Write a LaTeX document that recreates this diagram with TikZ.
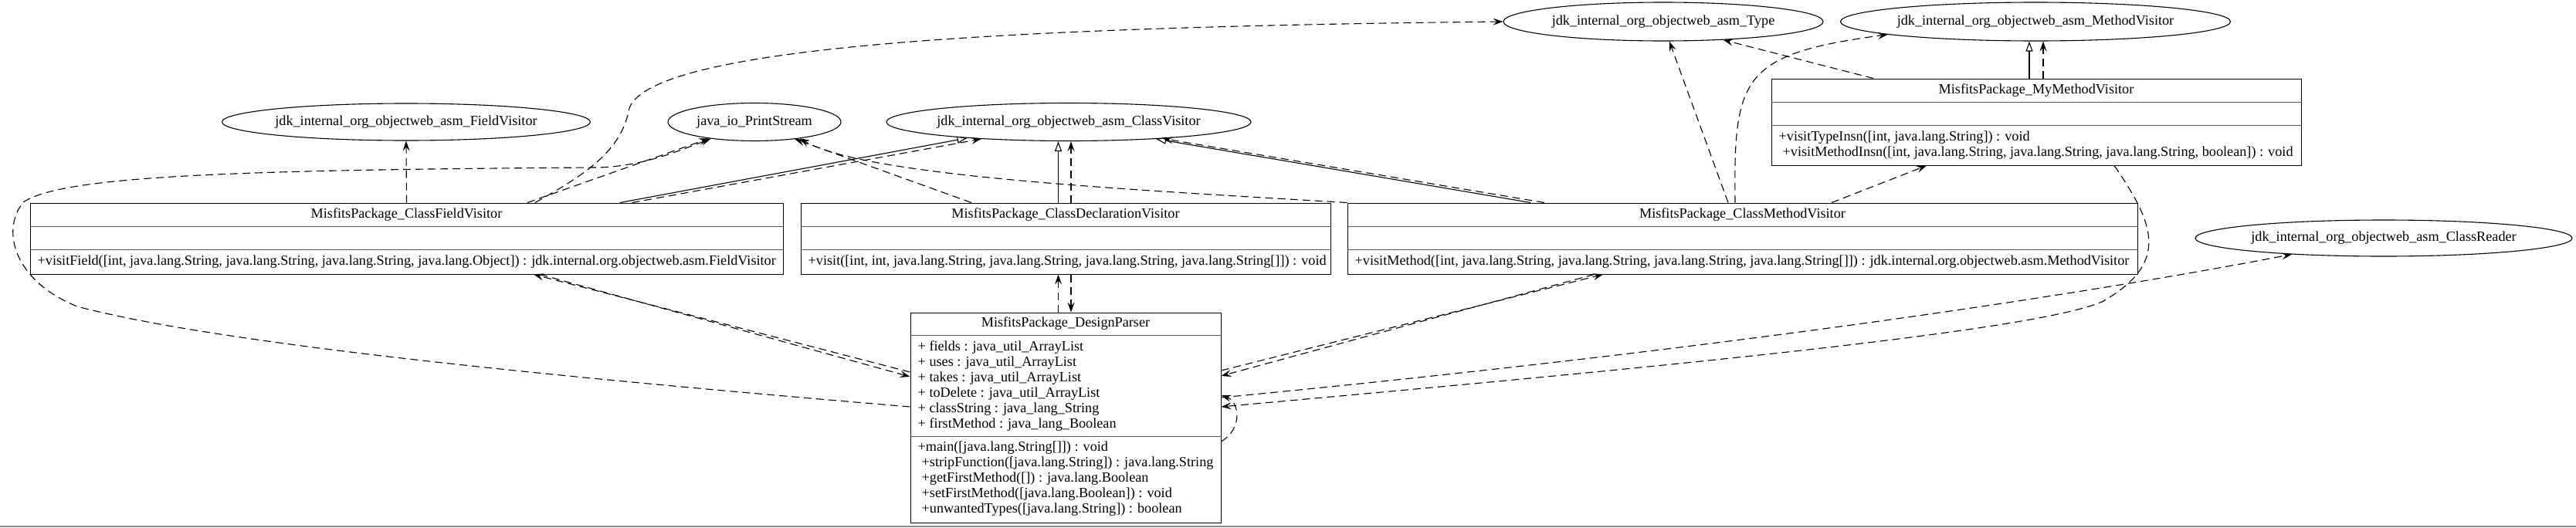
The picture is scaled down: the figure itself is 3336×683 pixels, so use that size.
\documentclass[tikz,border=0pt]{standalone}
\usepackage{fontspec}
\setmainfont{Liberation Serif}
\usetikzlibrary{shapes.geometric,arrows.meta}
\newcommand\umlfont{\fontsize{18.2pt}{20pt}\selectfont}
\tikzset{
 ell/.style={ellipse, draw, line width=1.1pt, inner sep=0pt},
 umlbox/.style={rectangle, draw, line width=1pt, inner sep=0pt},
 txt/.style={inner sep=0pt, font=\umlfont, align=left},
 divider/.style={line width=1.6pt, draw=black!65},
 dep/.style={line width=1.1pt, dash pattern=on 10pt off 6pt, -{Stealth[length=13pt,width=9pt,inset=5pt]}},
 inh/.style={line width=1.1pt, -{Triangle[open,length=13pt,width=9pt,fill=white]}},
}
\begin{document}
\begin{tikzpicture}[x=1pt,y=-1pt]
\useasboundingbox (0,0) rectangle (3336,683);
\draw[line width=2pt, black!45] (0,682) -- (3336,682);

% ---------- ellipses ----------
\node[ell, minimum width=477pt, minimum height=48pt] (fv) at (526,158) {};
\node[txt] (fvt) at (fv) {jdk\_internal\_org\_objectweb\_asm\_FieldVisitor};
\node[ell, minimum width=224pt, minimum height=49pt] (ps) at (977,158) {};
\node[txt] (pst) at (ps) {java\_io\_PrintStream};
\node[ell, minimum width=472pt, minimum height=49pt] (cv) at (1384,158) {};
\node[txt] (cvt) at (cv) {jdk\_internal\_org\_objectweb\_asm\_ClassVisitor};
\node[ell, minimum width=414pt, minimum height=50pt] (ty) at (2154,28) {};
\node[txt] (tyt) at (ty) {jdk\_internal\_org\_objectweb\_asm\_Type};
\node[ell, minimum width=505pt, minimum height=50pt] (mv) at (2636,28) {};
\node[txt] (mvt) at (mv) {jdk\_internal\_org\_objectweb\_asm\_MethodVisitor};
\node[ell, minimum width=488pt, minimum height=47pt] (cr) at (3087,308.5) {};
\node[txt] (crt) at (cr) {jdk\_internal\_org\_objectweb\_asm\_ClassReader};

% ---------- class boxes ----------
% ClassFieldVisitor
\node[umlbox, minimum width=975pt, minimum height=92pt] (cfv) at (526.5,309) {};
\draw[divider] ([yshift=-31pt]cfv.north west) -- ([yshift=-31pt]cfv.north east);
\draw[divider] ([yshift=-61pt]cfv.north west) -- ([yshift=-61pt]cfv.north east);
\node[txt] (cfvn) at ([yshift=-15.5pt]cfv.north) {MisfitsPackage\_ClassFieldVisitor};
\node[txt, anchor=west] (cfvm) at ([xshift=10pt,yshift=-76.5pt]cfv.north west) {+visitField([int, java.lang.String, java.lang.String, java.lang.String, java.lang.Object]) : jdk.internal.org.objectweb.asm.FieldVisitor};

% ClassDeclarationVisitor
\node[umlbox, minimum width=686pt, minimum height=92pt] (cdv) at (1380,309) {};
\draw[divider] ([yshift=-31pt]cdv.north west) -- ([yshift=-31pt]cdv.north east);
\draw[divider] ([yshift=-61pt]cdv.north west) -- ([yshift=-61pt]cdv.north east);
\node[txt] (cdvn) at ([yshift=-15.5pt]cdv.north) {MisfitsPackage\_ClassDeclarationVisitor};
\node[txt, anchor=west] (cdvm) at ([xshift=10pt,yshift=-76.5pt]cdv.north west) {+visit([int, int, java.lang.String, java.lang.String, java.lang.String, java.lang.String[]]) : void};

% ClassMethodVisitor
\node[umlbox, minimum width=1023pt, minimum height=92pt] (cmv) at (2256.5,309) {};
\draw[divider] ([yshift=-31pt]cmv.north west) -- ([yshift=-31pt]cmv.north east);
\draw[divider] ([yshift=-61pt]cmv.north west) -- ([yshift=-61pt]cmv.north east);
\node[txt] (cmvn) at ([yshift=-15.5pt]cmv.north) {MisfitsPackage\_ClassMethodVisitor};
\node[txt, anchor=west] (cmvm) at ([xshift=10pt,yshift=-76.5pt]cmv.north west) {+visitMethod([int, java.lang.String, java.lang.String, java.lang.String, java.lang.String[]]) : jdk.internal.org.objectweb.asm.MethodVisitor};

% MyMethodVisitor
\node[umlbox, minimum width=686pt, minimum height=112pt] (mymv) at (2637,158) {};
\draw[divider] ([yshift=-31pt]mymv.north west) -- ([yshift=-31pt]mymv.north east);
\draw[divider] ([yshift=-61pt]mymv.north west) -- ([yshift=-61pt]mymv.north east);
\node[txt] (mymvn) at ([yshift=-15.5pt]mymv.north) {MisfitsPackage\_MyMethodVisitor};
\node[txt, anchor=west] (mymvm) at ([xshift=10pt,yshift=-86.5pt]mymv.north west) {+visitTypeInsn([int, java.lang.String]) : void\\\hspace*{5pt}+visitMethodInsn([int, java.lang.String, java.lang.String, java.lang.String, boolean]) : void};

% DesignParser
\node[umlbox, minimum width=402pt, minimum height=272pt] (dp) at (1380,541) {};
\draw[divider] ([yshift=-30pt]dp.north west) -- ([yshift=-30pt]dp.north east);
\draw[divider] ([yshift=-161pt]dp.north west) -- ([yshift=-161pt]dp.north east);
\node[txt] (dpn) at ([yshift=-15pt]dp.north) {MisfitsPackage\_DesignParser};
\node[txt, anchor=west] (dpa) at ([xshift=10pt,yshift=-96pt]dp.north west) {+ fields : java\_util\_ArrayList\\+ uses : java\_util\_ArrayList\\+ takes : java\_util\_ArrayList\\+ toDelete : java\_util\_ArrayList\\+ classString : java\_lang\_String\\+ firstMethod : java\_lang\_Boolean};
\node[txt, anchor=west] (dpm) at ([xshift=10pt,yshift=-216pt]dp.north west) {+main([java.lang.String[]]) : void\\\hspace*{5pt}+stripFunction([java.lang.String]) : java.lang.String\\\hspace*{5pt}+getFirstMethod([]) : java.lang.Boolean\\\hspace*{5pt}+setFirstMethod([java.lang.Boolean]) : void\\\hspace*{5pt}+unwantedTypes([java.lang.String]) : boolean};

% ---------- connectors ----------
% ClassFieldVisitor
\draw[dep] (cfv.north) -- (fv.south);
\draw[dep] ([xshift=156.5pt]cfv.north) -- (ps.200.3);
\draw[dep] ([xshift=166.5pt]cfv.north) .. controls (760,225) and (805,195) .. (815,140) .. controls (845,60) and (1300,35) .. (ty.west);
\draw[inh] ([xshift=276.5pt]cfv.north) -- (cv.189.8);
\draw[dep] ([xshift=292pt]cfv.north) -- (cv.191.9);

% ClassDeclarationVisitor
\draw[inh] ([xshift=-9.5pt]cdv.north) -- ([xshift=-9.5pt]cdv.north |- cv.south);
\draw[dep] ([xshift=7pt]cdv.north) -- ([xshift=7pt]cdv.north |- cv.south);
\draw[dep] ([xshift=-122pt]cdv.north) -- (ps.337.8);

% ClassMethodVisitor
\draw[dep] (cmv.north west) .. controls (1450,245) and (1120,228) .. (ps.340.1);
\draw[inh] ([xshift=-274.5pt]cmv.north) -- (cv.349.2);
\draw[dep] ([xshift=-256.5pt]cmv.north) -- (cv.350.5);
\draw[dep] ([xshift=-18.5pt]cmv.north) -- (ty.287.7);
\draw[dep] ([xshift=-9.5pt]cmv.north) .. controls (2245,100) and (2255,70) .. (mv.185.6);
\draw[dep] ([xshift=115.5pt]cmv.north) -- ([xshift=-142pt]mymv.south);

% MyMethodVisitor
\draw[inh] ([xshift=-9pt]mymv.north) -- ([xshift=-9pt]mymv.north |- mv.south);
\draw[dep] ([xshift=9pt]mymv.north) -- ([xshift=9pt]mymv.north |- mv.south);
\draw[dep] ([xshift=-211pt]mymv.north) -- (ty.343.9);
\draw[dep] ([xshift=101pt]mymv.south) .. controls (2790,290) and (2810,340) .. (2724,390) .. controls (2640,430) and (2100,480) .. ([yshift=14pt]dp.east);

% DesignParser
\draw[dep] ([yshift=14pt]dp.west) .. controls (800,495) and (300,450) .. (100,397) .. controls (20,365) and (0,300) .. (30,262) .. controls (80,228) and (300,220) .. (772,217) .. controls (830,216) and (875,197) .. (ps.201.8);
\draw[dep] ([yshift=59pt]dp.west) -- ([xshift=164.5pt]cfv.south);
\draw[dep] ([xshift=173pt]cfv.south) -- ([yshift=53pt]dp.west);
\draw[dep] ([xshift=-9.5pt]dp.north) -- ([xshift=-9.5pt]cdv.south);
\draw[dep] ([xshift=7pt]cdv.south) -- ([xshift=7pt]dp.north);
\draw[dep] ([yshift=61pt]dp.east) -- ([xshift=-180.5pt]cmv.south);
\draw[dep] ([xshift=-192pt]cmv.south) -- ([yshift=54pt]dp.east);
\draw[dep] ([yshift=26pt]dp.east) .. controls (2100,465) and (2600,400) .. (cr.190.1);
\draw[dep] ([yshift=-31pt]dp.east) .. controls (1610,555) and (1605,520) .. ([yshift=29pt]dp.east);
\end{tikzpicture}
\end{document}
